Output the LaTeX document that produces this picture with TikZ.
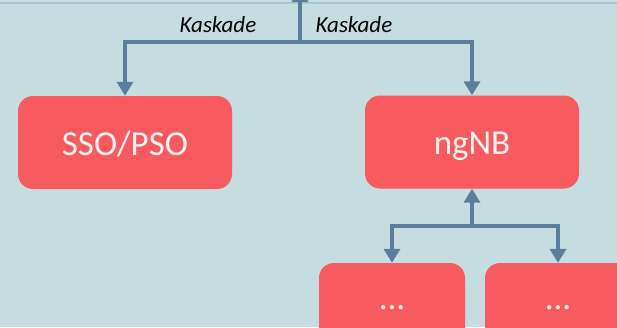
\documentclass[tikz,border=0pt]{standalone}
\usepackage{fontspec}
\setmainfont{Carlito}
\usetikzlibrary{arrows.meta}
\definecolor{bg}{HTML}{C5DDE0}
\definecolor{topline}{HTML}{A9C7CF}
\definecolor{boxred}{HTML}{F75B5F}
\definecolor{arrowblue}{HTML}{5B7E9C}
\definecolor{boxtext}{HTML}{FFF2F2}
\tikzset{
  redbox/.style={fill=boxred, rounded corners=15pt, inner sep=0pt,
    text=boxtext, font=\fontsize{35}{40}\selectfont},
  bigbox/.style={redbox, minimum width=214pt, minimum height=93pt,
    text height=25pt, text depth=0pt},
  smallbox/.style={redbox, minimum width=146pt, minimum height=90pt},
  arr/.style={draw=arrowblue, line width=4pt,
    -{Triangle[width=16pt,length=14pt]}},
  lbl/.style={font=\fontsize{23}{27}\selectfont\itshape, text=black, inner sep=0pt}
}
\begin{document}
\begin{tikzpicture}[x=1pt,y=-1pt]
  \clip (0,0) rectangle (617,327);
  \fill[bg] (0,0) rectangle (617,327);
  \draw[topline, line width=1.5pt] (0,3) -- (617,3);

  \node[bigbox] (sso) at (125,142.5) {SSO/PSO};
  \node[bigbox] (ngnb) at (472,142) {ngNB};
  \node[smallbox] (b1) at (392,308) {...};
  \node[smallbox] (b2) at (558,308) {...};

  \coordinate (j1) at (300,42);
  \coordinate (top) at (300,-12);
  \coordinate (j2) at (472,226);

  \draw[arr] (j1) -- (top);
  \draw[arr] (j1) -| (sso.north);
  \draw[arr] (j1) -| (ngnb.north);
  \draw[arr] (j2) -- (ngnb.south);
  \draw[arr] (j2) -| (b1.north);
  \draw[arr] (j2) -| (b2.north);

  \node[lbl] (k1) at (218,25) {Kaskade};
  \node[lbl] (k2) at (354,25) {Kaskade};
\end{tikzpicture}
\end{document}
